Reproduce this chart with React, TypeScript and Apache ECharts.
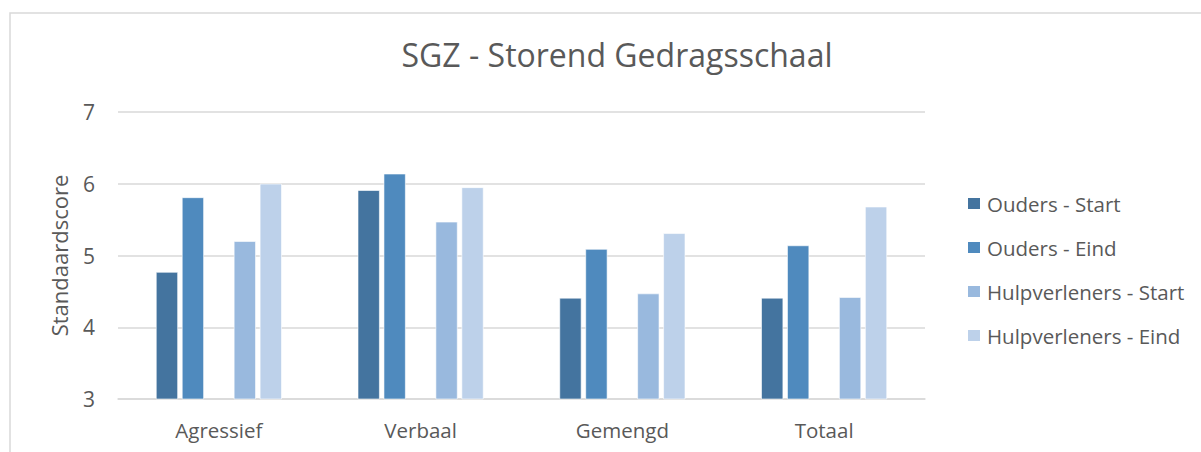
import React, { useEffect, useRef } from "react";
import * as echarts from "echarts";

const categories = ["Agressief", "Verbaal", "Gemengd", "Totaal"];
const seriesNames = ["Ouders - Start", "Ouders - Eind", "Hulpverleners - Start", "Hulpverleners - Eind"];
const oudersStart = [4.77, 5.91, 4.41, 4.41];
const oudersEind = [5.81, 6.14, 5.09, 5.14];
const hulpStart = [5.2, 5.47, 4.47, 4.42];
const hulpEind = [6.0, 5.95, 5.31, 5.68];
const blank = [null, null, null, null];
const colors = ["#44749f", "#4f8abe", "#99b9de", "#bdd1ea"];

const FONT = "'Open Sans', sans-serif";
const TEXT = "#595959";

export default function App() {
  const ref = useRef<HTMLDivElement>(null);
  useEffect(() => {
    if (!ref.current) return;
    const chart = echarts.init(ref.current, undefined, { renderer: "svg" });
    const bar = (name: string, data: (number | null)[], color: string) => ({
      name,
      type: "bar",
      data,
      barWidth: 22,
      barGap: "18%",
      itemStyle: { color, borderColor: "#ffffff", borderWidth: 0.6 },
    });
    chart.setOption({
      animation: false,
      backgroundColor: "#ffffff",
      textStyle: { fontFamily: FONT, color: TEXT },
      title: {
        text: "SGZ - Storend Gedragsschaal",
        left: 612,
        top: 33,
        textAlign: "center",
        textStyle: { fontFamily: FONT, fontSize: 32, fontWeight: "normal", color: TEXT },
      },
      grid: { left: 118, right: 276, top: 112, bottom: 53 },
      legend: {
        orient: "vertical",
        left: 966,
        top: 193,
        padding: 0,
        itemWidth: 14,
        itemHeight: 13,
        itemGap: 23,
        icon: "rect",
        data: seriesNames,
        textStyle: { fontFamily: FONT, fontSize: 20.5, color: TEXT, lineHeight: 21, padding: [0, 0, 0, 1] },
      },
      xAxis: {
        type: "category",
        data: categories,
        axisLine: { lineStyle: { color: "#d9d9d9", width: 1.5 } },
        axisTick: { show: false },
        axisLabel: { fontFamily: FONT, fontSize: 20.5, color: TEXT, margin: 20 },
      },
      yAxis: {
        type: "value",
        min: 3,
        max: 7,
        interval: 1,
        name: "Standaardscore",
        nameLocation: "middle",
        nameGap: 48,
        nameTextStyle: { fontFamily: FONT, fontSize: 22, color: TEXT },
        axisLine: { show: false },
        axisTick: { show: false },
        axisLabel: { fontFamily: FONT, fontSize: 21, color: TEXT, margin: 23 },
        splitLine: { lineStyle: { color: "#d9d9d9", width: 1.5 } },
      },
      graphic: [
        {
          type: "rect",
          silent: true,
          shape: { x: 10, y: 13, width: 1200, height: 450 },
          style: { fill: "none", stroke: "#d9d9d9", lineWidth: 1.5 },
        },
      ],
      series: [
        bar(seriesNames[0], oudersStart, colors[0]),
        bar(seriesNames[1], oudersEind, colors[1]),
        bar("", blank, "#ffffff"),
        bar(seriesNames[2], hulpStart, colors[2]),
        bar(seriesNames[3], hulpEind, colors[3]),
      ],
    });
    return () => chart.dispose();
  }, []);
  return (
    <div
      ref={ref}
      style={{ position: "fixed", left: 0, top: 0, width: 1201, height: 452 }}
    />
  );
}
